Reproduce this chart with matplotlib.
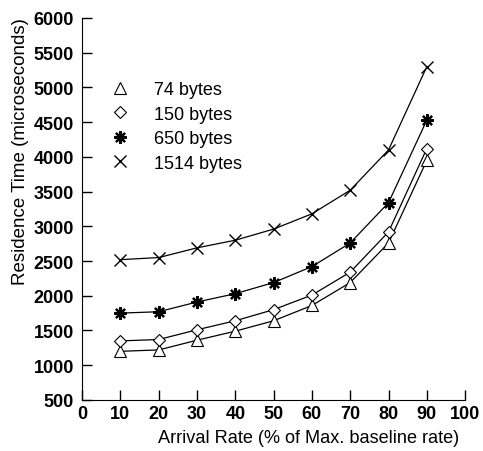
import matplotlib
matplotlib.use("Agg")
import matplotlib.pyplot as plt
import numpy as np

plt.rcParams['font.family'] = ['Liberation Sans', 'DejaVu Sans']

rate = [10, 20, 30, 40, 50, 60, 70, 80, 90]
b74 = [1200, 1220, 1360, 1490, 1640, 1860, 2190, 2760, 3950]
b150 = [1350, 1370, 1510, 1640, 1800, 2010, 2340, 2920, 4120]
b650 = [1750, 1770, 1910, 2030, 2190, 2420, 2760, 3340, 4530]
b1514 = [2520, 2550, 2690, 2800, 2960, 3180, 3520, 4100, 5300]
labels = ["74 bytes", "150 bytes", "650 bytes", "1514 bytes"]

fig = plt.figure(figsize=(4.83, 4.52), dpi=100)
ax = fig.add_axes([0.170, 0.113, 0.793, 0.845])

ax.plot(rate, b74, color="black", lw=0.9, marker="^", ms=8, mfc="white", mew=0.8, label=labels[0])
ax.plot(rate, b150, color="black", lw=0.9, marker="D", ms=6, mfc="white", mew=0.8, label=labels[1])
ax.plot(rate, b650, color="black", lw=0.9, marker=(8, 2, 0), ms=9, mew=1.6, label=labels[2])
ax.plot(rate, b1514, color="black", lw=0.9, marker="x", ms=8, mew=1.0, label=labels[3])

ax.set_xlim(0, 100)
ax.set_ylim(500, 6000)
ax.set_xticks(np.arange(0, 101, 10))
ax.set_yticks(np.arange(500, 6001, 500))
for s in ["top", "right"]:
    ax.spines[s].set_visible(False)
ax.tick_params(direction="in", length=7, width=1, labelsize=13)
ax.tick_params(axis="x", pad=4)
ax.tick_params(axis="y", pad=6)
for t in ax.get_xticklabels() + ax.get_yticklabels():
    t.set_fontweight("bold")

ax.set_xlabel("Arrival Rate (% of Max. baseline rate)", fontsize=13.1, labelpad=5, x=0.591)
ax.set_ylabel("Residence Time (microseconds)", fontsize=13.5, labelpad=3, y=0.654)

leg = ax.legend(loc="upper left", bbox_to_anchor=(0.098, 0.835), frameon=False,
                fontsize=13, handlelength=0, handletextpad=1.9, labelspacing=0.42,
                borderpad=0, borderaxespad=0)
for h in leg.legend_handles:
    h.set_linestyle("None")

fig.savefig("out.png", dpi=100)
